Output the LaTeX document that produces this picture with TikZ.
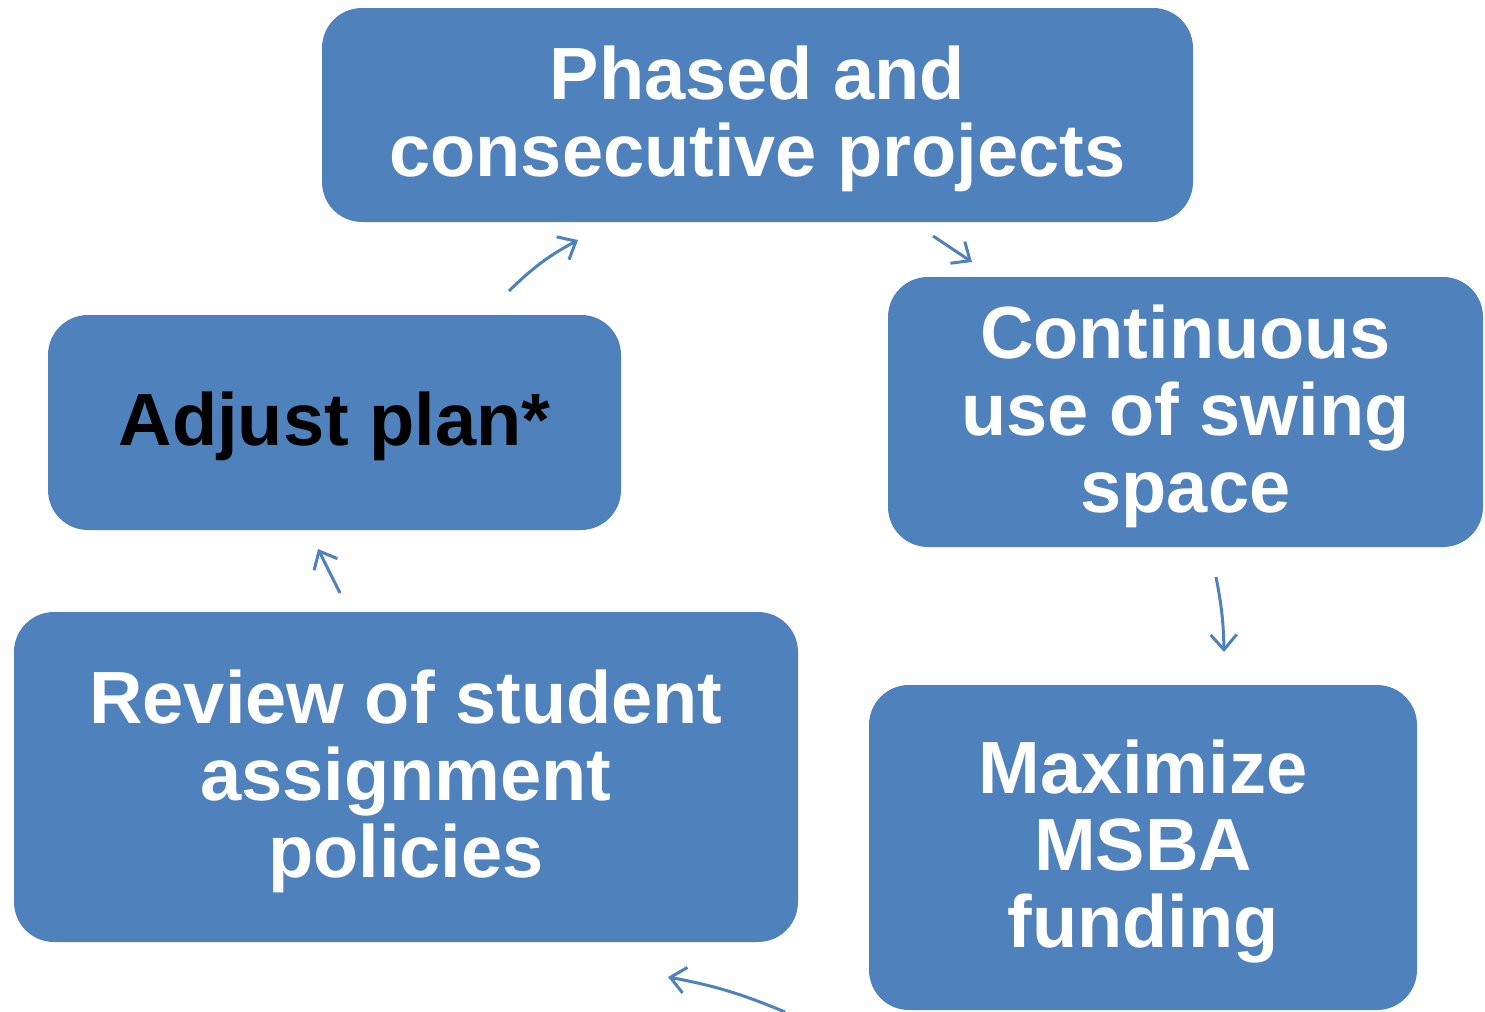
\documentclass[tikz,border=0pt]{standalone}
\usepackage{fontspec}
\setmainfont{Liberation Sans}
\usetikzlibrary{arrows.meta}
\definecolor{boxblue}{HTML}{4F81BD}
\definecolor{arrowblue}{HTML}{4F81BD}
\tikzset{
  cyclebox/.style={fill=boxblue, draw=none, rounded corners=20pt, inner sep=0pt},
  boxtext/.style={align=center, text=white, inner sep=0pt, yshift=-2pt,
    font=\bfseries\fontsize{37}{38.5}\selectfont},
  cyclearrow/.style={draw=arrowblue, line width=1.5pt,
    -{Straight Barb[length=7.5pt,width=13pt,line width=1.5pt]}}
}
\begin{document}
\begin{tikzpicture}[x=0.5pt,y=-0.5pt]
\useasboundingbox (0,0) rectangle (1485,1012);
\node[cyclebox, minimum width=435.5pt, minimum height=107pt] (phased) at (757.5,115) {};
\node[boxtext] (phasedtext) at (phased.center) {Phased and\\consecutive projects};
\node[cyclebox, minimum width=297.5pt, minimum height=135pt] (swing) at (1185.5,412) {};
\node[boxtext] (swingtext) at (swing.center) {Continuous\\use of swing\\space};
\node[cyclebox, minimum width=274pt, minimum height=162.5pt] (msba) at (1143,847.5) {};
\node[boxtext] (msbatext) at (msba.center) {Maximize\\MSBA\\funding};
\node[cyclebox, minimum width=392pt, minimum height=165pt] (review) at (406,777) {};
\node[boxtext] (reviewtext) at (review.center) {Review of student\\assignment\\policies};
\node[cyclebox, minimum width=286.5pt, minimum height=107.5pt] (adjust) at (334.5,422.5) {};
\node[boxtext, text=black] (adjusttext) at (adjust.center) {Adjust plan*};
\coordinate (a1s) at (509,291); \coordinate (a1e) at (578,240);
\coordinate (a2s) at (933,236); \coordinate (a2e) at (972,262);
\coordinate (a3s) at (1216,577); \coordinate (a3e) at (1224,652);
\coordinate (a4s) at (340,593); \coordinate (a4e) at (318,549);
\coordinate (a5s) at (785,1012); \coordinate (a5e) at (668,977);
\draw[cyclearrow] (a1s) to[bend left=8] (a1e);
\draw[cyclearrow] (a2s) -- (a2e);
\draw[cyclearrow] (a3s) to[bend left=5] (a3e);
\draw[cyclearrow] (a4s) -- (a4e);
\draw[cyclearrow] (a5s) to[bend right=6] (a5e);
\end{tikzpicture}
\end{document}
